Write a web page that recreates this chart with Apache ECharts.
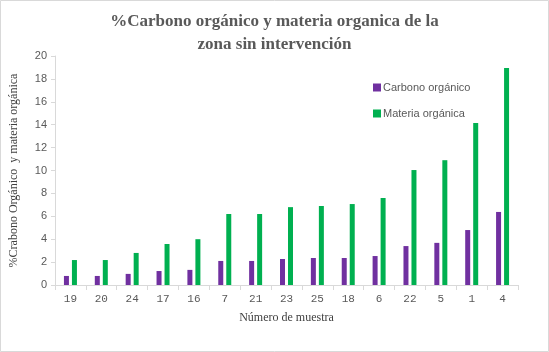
<!DOCTYPE html>
<html><head><meta charset="utf-8">
<script src="https://cdn.jsdelivr.net/npm/echarts@6/dist/echarts.min.js"></script>
<style>html,body{margin:0;padding:0;background:#fff}#c{width:549px;height:352px}</style>
</head><body><div id="c"></div>
<script>
const categories = ['19','20','24','17','16','7','21','23','25','18','6','22','5','1','4'];
const carbono = [0.79,0.79,0.97,1.22,1.32,2.1,2.1,2.27,2.36,2.36,2.53,3.4,3.68,4.8,6.38];
const materia = [2.18,2.18,2.8,3.58,4.0,6.2,6.2,6.8,6.9,7.07,7.6,10.04,10.9,14.15,18.95];
const yTicks = [0,2,4,6,8,10,12,14,16,18,20];

const chart = echarts.init(document.getElementById('c'));
chart.setOption({
  animation:false,
  backgroundColor:'#fff',
  title:{
    text:'%Carbono orgánico y materia organica de la\nzona sin intervención',
    left:'center', top:5,
    textStyle:{fontFamily:'Liberation Serif',fontSize:17,fontWeight:'bold',color:'#595959',lineHeight:23}
  },
  graphic:[{type:'rect',shape:{x:0.5,y:0.5,width:548,height:351},style:{fill:'none',stroke:'#d9d9d9',lineWidth:1},silent:true}],
  legend:{
    orient:'vertical', left:368, top:77, itemWidth:8, itemHeight:8, itemGap:15,
    icon:'rect',
    textStyle:{fontFamily:'Liberation Sans',fontSize:11,color:'#595959',padding:[0,0,0,-3]},
    data:['Carbono orgánico','Materia orgánica']
  },
  grid:{left:55,right:31,top:56,bottom:67},
  xAxis:{
    type:'category', data:categories,
    name:'Número de muestra', nameLocation:'middle', nameGap:27,
    nameTextStyle:{fontFamily:'Liberation Serif',fontSize:12,color:'#404040'},
    axisLine:{lineStyle:{color:'#d9d9d9'}},
    axisTick:{show:true,alignWithLabel:false,length:5,lineStyle:{color:'#d9d9d9'}},
    axisLabel:{fontFamily:'Liberation Mono',fontSize:11,color:'#595959',margin:9}
  },
  yAxis:{
    type:'value', min:0, max:20, interval:2,
    name:'%Crabono Orgánico  y materia orgánica', nameLocation:'middle', nameGap:35,
    nameTextStyle:{fontFamily:'Liberation Serif',fontSize:12,color:'#404040'},
    axisLine:{show:true,lineStyle:{color:'#d9d9d9'}},
    axisTick:{show:true,length:4,lineStyle:{color:'#d9d9d9'}},
    splitLine:{show:false},
    axisLabel:{fontFamily:'Liberation Sans',fontSize:11,color:'#595959',margin:8,
      formatter:function(v){return yTicks.indexOf(v)>=0?String(v):'';}}
  },
  series:[
    {name:'Carbono orgánico',type:'bar',data:carbono,barWidth:5,barGap:'60%',itemStyle:{color:'#7030a0'}},
    {name:'Materia orgánica',type:'bar',data:materia,barWidth:5,itemStyle:{color:'#00b050'}}
  ]
});
</script></body></html>
